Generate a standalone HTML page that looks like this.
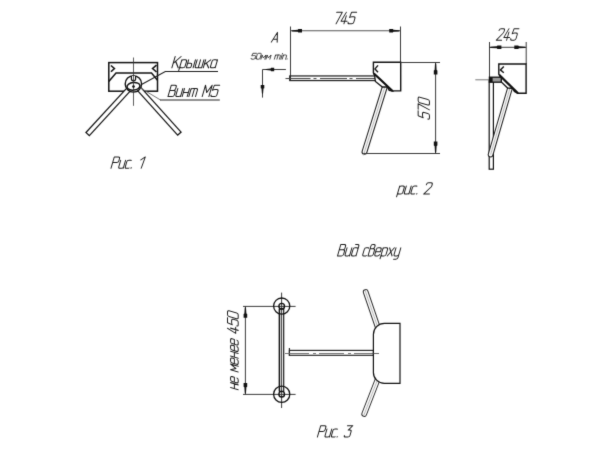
<!DOCTYPE html>
<html><head><meta charset="utf-8">
<style>
html,body{margin:0;padding:0;background:#fff;}
body{width:600px;height:454px;overflow:hidden;}
svg{display:block;}
text{font-family:"Liberation Sans",sans-serif;font-style:italic;fill:#3a3a3a;}
.k{stroke:#111;fill:none;stroke-width:1.3;}
.t{stroke:#3a3a3a;fill:none;stroke-width:1;}
.w{stroke:#fff;fill:none;}
.a{fill:#111;stroke:none;}
</style></head><body>
<svg width="600" height="454" viewBox="0 0 600 454">
<defs><filter id="soft" color-interpolation-filters="sRGB" x="0" y="0" width="600" height="454" filterUnits="userSpaceOnUse"><feConvolveMatrix order="3" kernelMatrix="0.015 0.08 0.015 0.08 0.62 0.08 0.015 0.08 0.015" edgeMode="duplicate" preserveAlpha="true"/></filter></defs>
<rect width="600" height="454" fill="#fff"/>
<g filter="url(#soft)">
<rect width="600" height="454" fill="#fff"/>

<!-- ===== Fig 1 ===== -->
<g id="f1">
<rect class="k" x="108.8" y="62.6" width="48.7" height="28.6" style="stroke-width:1.5"/>
<polyline class="k" points="108.8,81.5 116,73.1 151.5,73.1 157.5,80.2" style="stroke-width:1.5"/>
<polyline class="k" points="110.9,65.5 114.4,68.5 111,71.8" style="stroke-width:1.6"/>
<polyline class="k" points="156.5,65.2 152.6,68.5 156.5,72" style="stroke-width:1.6"/>
<!-- arms -->
<line class="k" x1="130.55" y1="87.4" x2="87.2" y2="134.5" style="stroke-width:5.8"/>
<line class="w" x1="130.55" y1="87.4" x2="88.1" y2="133.55" style="stroke-width:3.4"/>
<line class="k" x1="137.7" y1="87.4" x2="179.8" y2="134.1" style="stroke-width:5.8"/>
<line class="w" x1="137.7" y1="87.4" x2="178.9" y2="133.15" style="stroke-width:3.4"/>
<!-- hub -->
<circle class="k" cx="133.4" cy="83.9" r="8.2" style="fill:#fff;stroke-width:1.4"/>
<path class="k" d="M131.4,76 V78.7 A2.1,2.1 0 0 0 135.6,78.7 V76" style="fill:#fff;stroke-width:1.2"/>
<ellipse class="k" cx="133.5" cy="86.3" rx="6.5" ry="3.8" transform="rotate(-6 133.5 86.3)" style="fill:#fff;stroke-width:1.5"/>
<line class="t" x1="133.5" y1="57.5" x2="133.5" y2="105.8" style="stroke:#333;stroke-width:0.8"/>
<circle class="a" cx="133.5" cy="86.6" r="1.35"/>
<!-- leaders -->
<polyline class="t" points="142,84.2 165.3,71.5 218,71.5" style="stroke:#1c1c1c;stroke-width:1.05"/>
<line class="t" x1="140.5" y1="88" x2="160.5" y2="100" style="stroke:#666;stroke-width:0.9"/>
<line class="t" x1="160" y1="100" x2="219.8" y2="100" style="stroke:#222;stroke-width:1.05"/>
<path transform="matrix(0.8490,0.0000,0.2341,-0.8071,171.90,67.85)" d="M0 0L0 14M7 14L0 5.5M2.3 8L7.4 0M9 -3.4L9 10M9 8Q9 10 11 10L13 10Q15 10 15 8L15 2Q15 0 13 0L11 0Q9 0 9 2M17 10L17 0L20.4 0Q22.2 0 22.2 1.8L22.2 3.8Q22.2 5.6 20.4 5.6L17 5.6M25 10L25 0M27 10L27 2Q27 0 29 0L35 0M31 10L31 0M35 10L35 0M37 0L37 10M43 10L37 4M39 6L43.3 0M51 10L51 0M51 8Q51 10 49 10L47 10Q45 10 45 8L45 2Q45 0 47 0L49 0Q51 0 51 2" style="fill:none;stroke:#1e1e1e;stroke-width:1.239;stroke-linecap:round;stroke-linejoin:round"/>
<path transform="matrix(0.8345,0.0000,0.2341,-0.8071,168.00,96.55)" d="M0 0L0 14L4.5 14Q6.5 14 6.5 12L6.5 9.6Q6.5 7.6 4.5 7.6L0 7.6M4.5 7.6L5 7.6Q7 7.6 7 5.6L7 2Q7 0 5 0L0 0M9 10L9 2Q9 0 11 0L13 0Q15 0 15 2M15 10L15 0M17 10L17 0M17 5L23 5M23 10L23 0M25 0L25 10M25 8Q25 10 27 10L31 10Q33 10 33 8L33 0M29 10L29 0M41 0L41 14L45 5L49 14L49 0M58 14L51.7 14L51 7.8Q52.3 8.6 54 8.6L56 8.6Q58 8.6 58 6.6L58 2Q58 0 56 0L53 0Q51 0 51 2" style="fill:none;stroke:#1e1e1e;stroke-width:1.239;stroke-linecap:round;stroke-linejoin:round"/>
<path transform="matrix(0.8162,0.0000,0.2341,-0.8071,111.00,168.25)" d="M0 0L0 14L5 14Q7 14 7 12L7 9Q7 7 5 7L0 7M9 10L9 2Q9 0 11 0L13 0Q15 0 15 2M15 10L15 0M22 9.6Q22 10 21.4 10L19 10Q17 10 17 8L17 2Q17 0 19 0L21.4 0Q22 0 22 0.4M24.5 0L24.5 0.8M33.6 10.4L38 14L37 0" style="fill:none;stroke:#1e1e1e;stroke-width:1.239;stroke-linecap:round;stroke-linejoin:round"/>
</g>

<!-- ===== Fig 2 (front) ===== -->
<g id="f2">
<line class="t" x1="290.5" y1="26.5" x2="290.5" y2="81"/>
<line class="t" x1="400.5" y1="26.5" x2="400.5" y2="62"/>
<line class="t" x1="290.5" y1="30.8" x2="400.5" y2="30.8" style="stroke:#555;stroke-width:1.1"/>
<polygon class="a" points="291.20,30.80 292.28,31.40 297.77,31.80 298.31,32.60 302.00,32.60 302.00,29.00 298.31,29.00 297.77,29.80 292.28,30.20"/>
<polygon class="a" points="400.00,30.80 398.92,30.20 393.43,29.80 392.89,29.00 389.20,29.00 389.20,32.60 392.89,32.60 393.43,31.80 398.92,31.40"/>
<path transform="matrix(0.8065,0.0000,0.2382,-0.8214,333.30,23.85)" d="M0 14L7 14L3.4 0M12 14L8.6 3.3L16.1 3.3M13.2 10L13.2 0M24.8 14L18.5 14L17.8 7.8Q19.1 8.6 20.8 8.6L22.8 8.6Q24.8 8.6 24.8 6.6L24.8 2Q24.8 0 22.8 0L19.8 0Q17.8 0 17.8 2" style="fill:none;stroke:#1e1e1e;stroke-width:1.217;stroke-linecap:round;stroke-linejoin:round"/>
<path transform="matrix(0.7000,0.0000,0.2030,-0.7000,271.30,42.15)" d="M0 0L4.7 14L8.4 0M1.4 4.2L7.2 4.2" style="fill:none;stroke:#1e1e1e;stroke-width:1.429;stroke-linecap:round;stroke-linejoin:round"/>
<path transform="matrix(0.5615,0.0000,0.1222,-0.4214,250.80,59.20)" d="M7 14L0.7 14L0 7.8Q1.3 8.6 3 8.6L5 8.6Q7 8.6 7 6.6L7 2Q7 0 5 0L2 0Q0 0 0 2M9 2L9 12Q9 14 11 14L14 14Q16 14 16 12L16 2Q16 0 14 0L11 0Q9 0 9 2ZM18 0L18 10L21.5 3L25 10L25 0M27 0L27 10L30.5 3L34 10L34 0M42 0L42 10M42 8Q42 10 44 10L49 10Q51 10 51 8L51 0M46.5 10L46.5 0M53.5 0L53.5 10M53.5 12.6L53.5 13.6M56 0L56 10M56 8Q56 10 58 10L60 10Q62 10 62 8L62 0M64.5 0L64.5 0.8" style="fill:none;stroke:#1e1e1e;stroke-width:1.542;stroke-linecap:round;stroke-linejoin:round"/>
<!-- section arrow -->
<polyline class="t" points="285.9,69.5 262.5,69.5 262.5,97.6"/>
<polygon class="a" points="265.20,69.50 266.10,70.10 270.68,70.50 271.12,71.30 274.20,71.30 274.20,67.70 271.12,67.70 270.68,68.50 266.10,68.90"/>
<polygon class="a" points="262.50,94.20 263.10,93.28 263.50,88.60 264.30,88.14 264.30,85.00 260.70,85.00 260.70,88.14 261.50,88.60 261.90,93.28"/>
<!-- horizontal arm -->
<rect class="k" x="289.75" y="75.95" width="86" height="4.6" style="stroke-width:1.25;stroke:#222"/>
<line class="t" x1="285.5" y1="78.55" x2="375" y2="78.55" style="stroke-dasharray:25 3 3 3.5 27 2.5 3 3.5 30;stroke:#444;stroke-width:1"/>
<!-- lower arm -->
<line class="k" x1="385.4" y1="85" x2="364.5" y2="151.8" style="stroke-width:5.9;stroke:#222;stroke-linecap:round"/>
<line class="w" x1="385.4" y1="85" x2="364.5" y2="151.8" style="stroke-width:3.8;stroke-linecap:round"/>
<line class="t" x1="385.4" y1="85" x2="363.4" y2="155.4" style="stroke:#999;stroke-width:0.7"/>
<!-- body -->
<polygon class="k" points="373.4,62.3 400.7,62.3 400.7,90.9 392.3,90.9 373.9,73.8 373.4,72.8" style="fill:#fff;stroke-width:1.4"/>
<polygon class="k" points="374.4,74 375.4,81.5 382.4,87 387.3,87 389.2,90.4 392.3,90.9" style="fill:#fff;stroke-width:1.3"/>
<line class="k" x1="373.9" y1="73.6" x2="392.6" y2="91" style="stroke-width:2.1"/>
<polyline class="k" points="378,65.4 375,68.9 378,72.2" style="stroke-width:1.4"/>
<!-- 570 dim -->
<line class="t" x1="400.5" y1="62.5" x2="440" y2="62.5"/>
<line class="t" x1="363.5" y1="153.5" x2="440" y2="153.5"/>
<line class="t" x1="435.6" y1="62.5" x2="435.6" y2="153.5"/>
<polygon class="a" points="435.60,62.90 435.00,64.07 434.60,70.02 433.80,70.60 433.80,74.60 437.40,74.60 437.40,70.60 436.60,70.02 436.20,64.07"/>
<polygon class="a" points="435.60,153.10 436.20,151.93 436.60,145.98 437.40,145.40 437.40,141.40 433.80,141.40 433.80,145.40 434.60,145.98 435.00,151.93"/>
<path transform="matrix(0.0000,-0.7800,-0.8071,-0.2341,429.45,119.50)" d="M7 14L0.7 14L0 7.8Q1.3 8.6 3 8.6L5 8.6Q7 8.6 7 6.6L7 2Q7 0 5 0L2 0Q0 0 0 2M9 14L16 14L12.4 0M18 2L18 12Q18 14 20 14L23 14Q25 14 25 12L25 2Q25 0 23 0L20 0Q18 0 18 2Z" style="fill:none;stroke:#1e1e1e;stroke-width:1.239;stroke-linecap:round;stroke-linejoin:round"/>
<path transform="matrix(0.8205,0.0000,0.2341,-0.8071,397.40,194.10)" d="M0 -3.4L0 10M0 8Q0 10 2 10L4 10Q6 10 6 8L6 2Q6 0 4 0L2 0Q0 0 0 2M8 10L8 2Q8 0 10 0L12 0Q14 0 14 2M14 10L14 0M21 9.6Q21 10 20.4 10L18 10Q16 10 16 8L16 2Q16 0 18 0L20.4 0Q21 0 21 0.4M23.5 0L23.5 0.8M32 11.6L32 12Q32 14 34 14L37 14Q39 14 39 12L39 10.4Q39 9 37.8 7.8L32 0L39 0" style="fill:none;stroke:#1e1e1e;stroke-width:1.239;stroke-linecap:round;stroke-linejoin:round"/>
</g>

<!-- ===== Fig 2 (side) ===== -->
<g id="f2s">
<line class="t" x1="489.5" y1="42" x2="489.5" y2="78"/>
<line class="t" x1="526.2" y1="42" x2="526.2" y2="64"/>
<line class="t" x1="489.5" y1="47.3" x2="526.2" y2="47.3"/>
<polygon class="a" points="489.70,47.30 490.87,47.90 496.82,48.30 497.40,49.10 501.40,49.10 501.40,45.50 497.40,45.50 496.82,46.30 490.87,46.70"/>
<polygon class="a" points="526.00,47.30 524.83,46.70 518.88,46.30 518.30,45.50 514.30,45.50 514.30,49.10 518.30,49.10 518.88,48.30 524.83,47.90"/>
<path transform="matrix(0.7569,0.0000,0.2382,-0.8214,496.30,40.15)" d="M0 11.6L0 12Q0 14 2 14L5 14Q7 14 7 12L7 10.4Q7 9 5.8 7.8L0 0L7 0M12.4 14L9 3.3L16.5 3.3M13.6 10L13.6 0M25.5 14L19.2 14L18.5 7.8Q19.8 8.6 21.5 8.6L23.5 8.6Q25.5 8.6 25.5 6.6L25.5 2Q25.5 0 23.5 0L20.5 0Q18.5 0 18.5 2" style="fill:none;stroke:#1e1e1e;stroke-width:1.217;stroke-linecap:round;stroke-linejoin:round"/>
<!-- vertical arm -->
<rect class="k" x="489.2" y="80" width="4.2" height="89.2" style="stroke-width:1.2"/>
<!-- diagonal arm -->
<line class="k" x1="510.3" y1="87" x2="490.6" y2="154.6" style="stroke-width:5.7;stroke:#222;stroke-linecap:round"/>
<line class="w" x1="510.3" y1="87" x2="490.6" y2="154.6" style="stroke-width:3.6;stroke-linecap:round"/>
<line class="t" x1="510.3" y1="87" x2="490.6" y2="154.6" style="stroke:#999;stroke-width:0.7"/>
<!-- body -->
<polygon class="k" points="498.8,64 526.1,64 526.1,93.2 517.7,93.2 499.4,75 498.8,74.3" style="fill:#fff;stroke-width:1.4"/>
<polygon class="k" points="500.2,76 501.3,82 507.6,88 512.6,88.3 514.4,91.6 517.7,93.2" style="fill:#fff;stroke-width:1.3"/>
<line class="k" x1="499.4" y1="75" x2="518" y2="93.3" style="stroke-width:2.1"/>
<polyline class="k" points="503.8,66.4 500.4,69.9 503.8,72.8" style="stroke-width:1.4"/>
<!-- arm end -->
<rect class="k" x="489.4" y="77.2" width="11.9" height="5" style="fill:#999;stroke-width:1.3"/>
<rect x="489.4" y="77.2" width="3.2" height="5" fill="#111"/>
<line class="t" x1="475.3" y1="79.8" x2="489" y2="79.8" style="stroke:#777"/>
</g>

<!-- ===== Fig 3 ===== -->
<g id="f3">
<path transform="matrix(0.8026,0.0000,0.2341,-0.8071,337.50,255.90)" d="M0 0L0 14L4.5 14Q6.5 14 6.5 12L6.5 9.6Q6.5 7.6 4.5 7.6L0 7.6M4.5 7.6L5 7.6Q7 7.6 7 5.6L7 2Q7 0 5 0L0 0M9 10L9 2Q9 0 11 0L13 0Q15 0 15 2M15 10L15 0M23 2Q23 0 21 0L19 0Q17 0 17 2L17 8Q17 10 19 10L21 10Q23 10 23 8M23 0L23 12Q23 14 21 14L18.5 14M36 9.6Q36 10 35.4 10L33 10Q31 10 31 8L31 2Q31 0 33 0L35.4 0Q36 0 36 0.4M38 0L38 12Q38 14 40 14L41.2 14Q43.2 14 43.2 12L43.2 11Q43.2 9 41.2 9L38 9M41.2 9L42 9Q44 9 44 7L44 2Q44 0 42 0L38 0M46 5L52 5L52 8Q52 10 50 10L48 10Q46 10 46 8L46 2Q46 0 48 0L50 0Q52 0 52 1.6M54 -3.4L54 10M54 8Q54 10 56 10L58 10Q60 10 60 8L60 2Q60 0 58 0L56 0Q54 0 54 2M62 0L68 10M62 10L68 0M70 10L70 2Q70 0 72 0L74 0Q76 0 76 2M76 10L76 -2Q76 -4 74 -4L71 -4" style="fill:none;stroke:#1e1e1e;stroke-width:1.239;stroke-linecap:round;stroke-linejoin:round"/>
<line class="t" x1="281.6" y1="292.6" x2="281.6" y2="408"/>
<line class="t" x1="243" y1="306.4" x2="295.6" y2="306.4"/>
<line class="t" x1="243" y1="394.4" x2="295.6" y2="394.4"/>
<line class="t" x1="245.4" y1="306.4" x2="245.4" y2="394.4"/>
<polygon class="a" points="245.40,306.90 244.80,307.98 244.40,313.47 243.60,314.01 243.60,317.70 247.20,317.70 247.20,314.01 246.40,313.47 246.00,307.98"/>
<polygon class="a" points="245.40,393.90 246.00,392.82 246.40,387.33 247.20,386.79 247.20,383.10 243.60,383.10 243.60,386.79 244.40,387.33 244.80,392.82"/>
<circle class="k" cx="281.7" cy="306.1" r="8.1" style="stroke-width:1.3"/>
<circle class="k" cx="281.7" cy="394.3" r="8.1" style="stroke-width:1.3"/>
<rect class="k" x="279.5" y="309" width="4.2" height="82.4" style="stroke-width:1.15"/>
<line class="k" x1="279.4" y1="309" x2="279.4" y2="391.4" style="stroke-width:1.4"/>
<circle class="k" cx="281.7" cy="306.2" r="2.8" style="stroke-width:1.4"/>
<circle class="k" cx="281.7" cy="394.2" r="2.8" style="stroke-width:1.4"/>
<path transform="matrix(0.0000,-0.8063,-0.7643,-0.2216,238.20,389.70)" d="M0 10L0 0M0 5L6 5M6 10L6 0M8 5L14 5L14 8Q14 10 12 10L10 10Q8 10 8 8L8 2Q8 0 10 0L12 0Q14 0 14 1.6M22 0L22 10L25.5 3L29 10L29 0M31 5L37 5L37 8Q37 10 35 10L33 10Q31 10 31 8L31 2Q31 0 33 0L35 0Q37 0 37 1.6M39 10L39 0M39 5L45 5M45 10L45 0M47 5L53 5L53 8Q53 10 51 10L49 10Q47 10 47 8L47 2Q47 0 49 0L51 0Q53 0 53 1.6M55 5L61 5L61 8Q61 10 59 10L57 10Q55 10 55 8L55 2Q55 0 57 0L59 0Q61 0 61 1.6M72.4 14L69 3.3L76.5 3.3M73.6 10L73.6 0M85.5 14L79.2 14L78.5 7.8Q79.8 8.6 81.5 8.6L83.5 8.6Q85.5 8.6 85.5 6.6L85.5 2Q85.5 0 83.5 0L80.5 0Q78.5 0 78.5 2M87.5 2L87.5 12Q87.5 14 89.5 14L92.5 14Q94.5 14 94.5 12L94.5 2Q94.5 0 92.5 0L89.5 0Q87.5 0 87.5 2Z" style="fill:none;stroke:#1e1e1e;stroke-width:1.308;stroke-linecap:round;stroke-linejoin:round"/>
<!-- horizontal arm -->
<rect class="k" x="289.4" y="350.4" width="84" height="4.9" style="stroke-width:1.15;stroke:#222"/>
<line class="k" x1="289.4" y1="348" x2="289.4" y2="355.8" style="stroke-width:1.15;stroke:#222"/>
<line class="t" x1="285" y1="353.5" x2="373" y2="353.5" style="stroke-dasharray:24 4 3 3 25 4 3 3 30;stroke:#666;stroke-width:0.9"/>
<!-- arms -->
<line class="k" x1="378" y1="328" x2="365.7" y2="292" style="stroke-width:5.7;stroke:#2a2a2a;stroke-linecap:round"/>
<line class="w" x1="378" y1="328" x2="365.7" y2="292" style="stroke-width:3.8;stroke-linecap:round"/>
<line class="t" x1="378" y1="328" x2="364.8" y2="289.5" style="stroke:#999;stroke-width:0.7"/>
<line class="k" x1="377.6" y1="379.5" x2="364.2" y2="414" style="stroke-width:5.7;stroke:#2a2a2a;stroke-linecap:round"/>
<line class="w" x1="377.6" y1="379.5" x2="364.2" y2="414" style="stroke-width:3.8;stroke-linecap:round"/>
<line class="t" x1="377.6" y1="379.5" x2="363.3" y2="416.6" style="stroke:#999;stroke-width:0.7"/>
<!-- body -->
<path class="k" d="M400,323.4 H384.4 A11,11 0 0 0 373.4,334.4 V372.4 A11,11 0 0 0 384.4,383.4 H400 Z" style="fill:#fff;stroke-width:1.2"/>
<line class="t" x1="373.4" y1="353.5" x2="379" y2="353.5" style="stroke:#555;stroke-width:0.9"/>
<path transform="matrix(0.8025,0.0000,0.2341,-0.8071,317.40,437.05)" d="M0 0L0 14L5 14Q7 14 7 12L7 9Q7 7 5 7L0 7M9 10L9 2Q9 0 11 0L13 0Q15 0 15 2M15 10L15 0M22 9.6Q22 10 21.4 10L19 10Q17 10 17 8L17 2Q17 0 19 0L21.4 0Q22 0 22 0.4M24.5 0L24.5 0.8M33.3 14L40 14L35.9 8.6L38 8.6Q40 8.6 40 6.6L40 2Q40 0 38 0L35 0Q33 0 33 2" style="fill:none;stroke:#1e1e1e;stroke-width:1.239;stroke-linecap:round;stroke-linejoin:round"/>
</g>
</g>
</svg>
</body></html>
